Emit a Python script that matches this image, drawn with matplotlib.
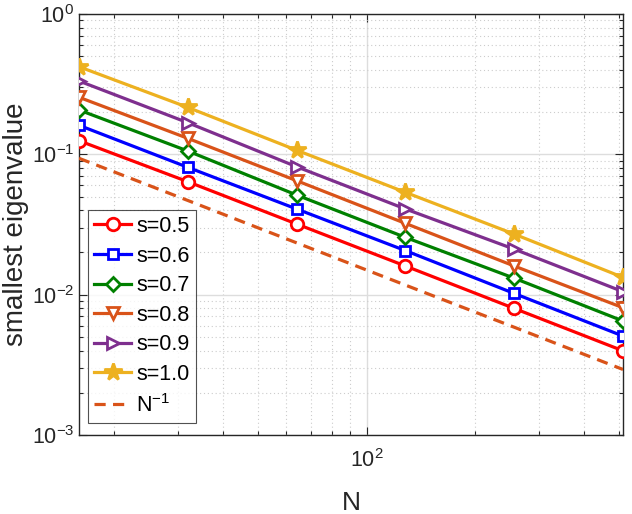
import matplotlib
matplotlib.use("Agg")
import matplotlib.pyplot as plt
from matplotlib.ticker import LogLocator, NullFormatter

plt.rcParams['font.family'] = ['Liberation Sans', 'DejaVu Sans']
plt.rcParams['mathtext.fontset'] = 'custom'
plt.rcParams['mathtext.rm'] = 'Liberation Sans'
plt.rcParams['mathtext.it'] = 'Liberation Sans'

N = [16, 32, 64, 128, 256, 512]
s05 = [0.125, 0.0638, 0.0319, 0.0160, 0.00798, 0.00398]
s06 = [0.161, 0.0808, 0.0408, 0.0206, 0.0102, 0.00507]
s07 = [0.207, 0.1056, 0.0513, 0.0256, 0.0131, 0.00649]
s08 = [0.255, 0.130, 0.0649, 0.0322, 0.0160, 0.00807]
s09 = [0.333, 0.168, 0.0816, 0.0408, 0.0211, 0.0105]
s10 = [0.421, 0.216, 0.107, 0.0536, 0.0270, 0.01328]
ref = [0.0937, 0.0469, 0.0234, 0.0117, 0.00586, 0.00293]

labels = ['s=0.5', 's=0.6', 's=0.7', 's=0.8', 's=0.9', 's=1.0']
series = [s05, s06, s07, s08, s09, s10]
colors = ['#ff0000', '#0000ff', '#008000', '#d95319', '#7e2f8e', '#edb120']
markers = ['o', 's', 'D', 'v', '>', '*']
msizes = [9, 7, 7, 9, 9, 13]

fig = plt.figure(figsize=(6.32, 5.14), dpi=100)
ax = fig.add_axes([0.125, 0.1537, 0.8608, 0.8191])

for y, lab, c, m, ms in zip(series, labels, colors, markers, msizes):
    face = c if m == '*' else 'white'
    ax.loglog(N, y, color=c, lw=2.3, marker=m, ms=ms, mfc=face, mec=c,
              mew=2.0, label=lab, zorder=3)
ax.loglog(N, ref, color='#d95319', lw=2.3, ls=(0, (3.5, 2.3)),
          label=r'N$^{\mathregular{-1}}$', zorder=3)

ax.set_xlim(16, 512)
ax.set_ylim(1e-3, 1)
ax.set_xticks([100])
ax.set_xticklabels([r'10$^{\mathregular{2}}$'])
ax.set_yticks([1e-3, 1e-2, 1e-1, 1])
ax.set_yticklabels([r'10$^{\mathregular{-3}}$', r'10$^{\mathregular{-2}}$',
                    r'10$^{\mathregular{-1}}$', r'10$^{\mathregular{0}}$'])
ax.xaxis.set_minor_locator(LogLocator(base=10, subs=range(2, 10), numticks=20))
ax.yaxis.set_minor_locator(LogLocator(base=10, subs=range(2, 10), numticks=20))
ax.xaxis.set_minor_formatter(NullFormatter())
ax.yaxis.set_minor_formatter(NullFormatter())

ax.grid(True, which='major', color='#dddddd', lw=1.0, ls='-', zorder=0)
ax.grid(True, which='minor', color='#cccccc', lw=0.8, ls=(0, (1, 2.5)), zorder=0)

ax.tick_params(which='both', direction='in', top=True, right=True,
               colors='#262626', labelcolor='#262626')
ax.tick_params(which='major', length=6, width=0.8, labelsize=15.5)
ax.tick_params(axis='x', which='major', pad=10)
ax.tick_params(which='minor', length=3, width=0.8)
for sp in ax.spines.values():
    sp.set_color('#262626')
    sp.set_linewidth(1.0)

ax.set_xlabel('N', fontsize=19, color='#262626', labelpad=14)
ax.set_ylabel('smallest eigenvalue', fontsize=20, color='#262626', labelpad=2)

leg = ax.legend(loc='lower left', bbox_to_anchor=(0.0165, 0.0285), fontsize=15.5,
                frameon=True, fancybox=False, edgecolor='#262626',
                handlelength=1.7, handletextpad=0.25, labelspacing=0.4,
                borderpad=0.3, borderaxespad=0.0)
leg.get_frame().set_linewidth(0.8)

fig.savefig('out.png', dpi=100)
